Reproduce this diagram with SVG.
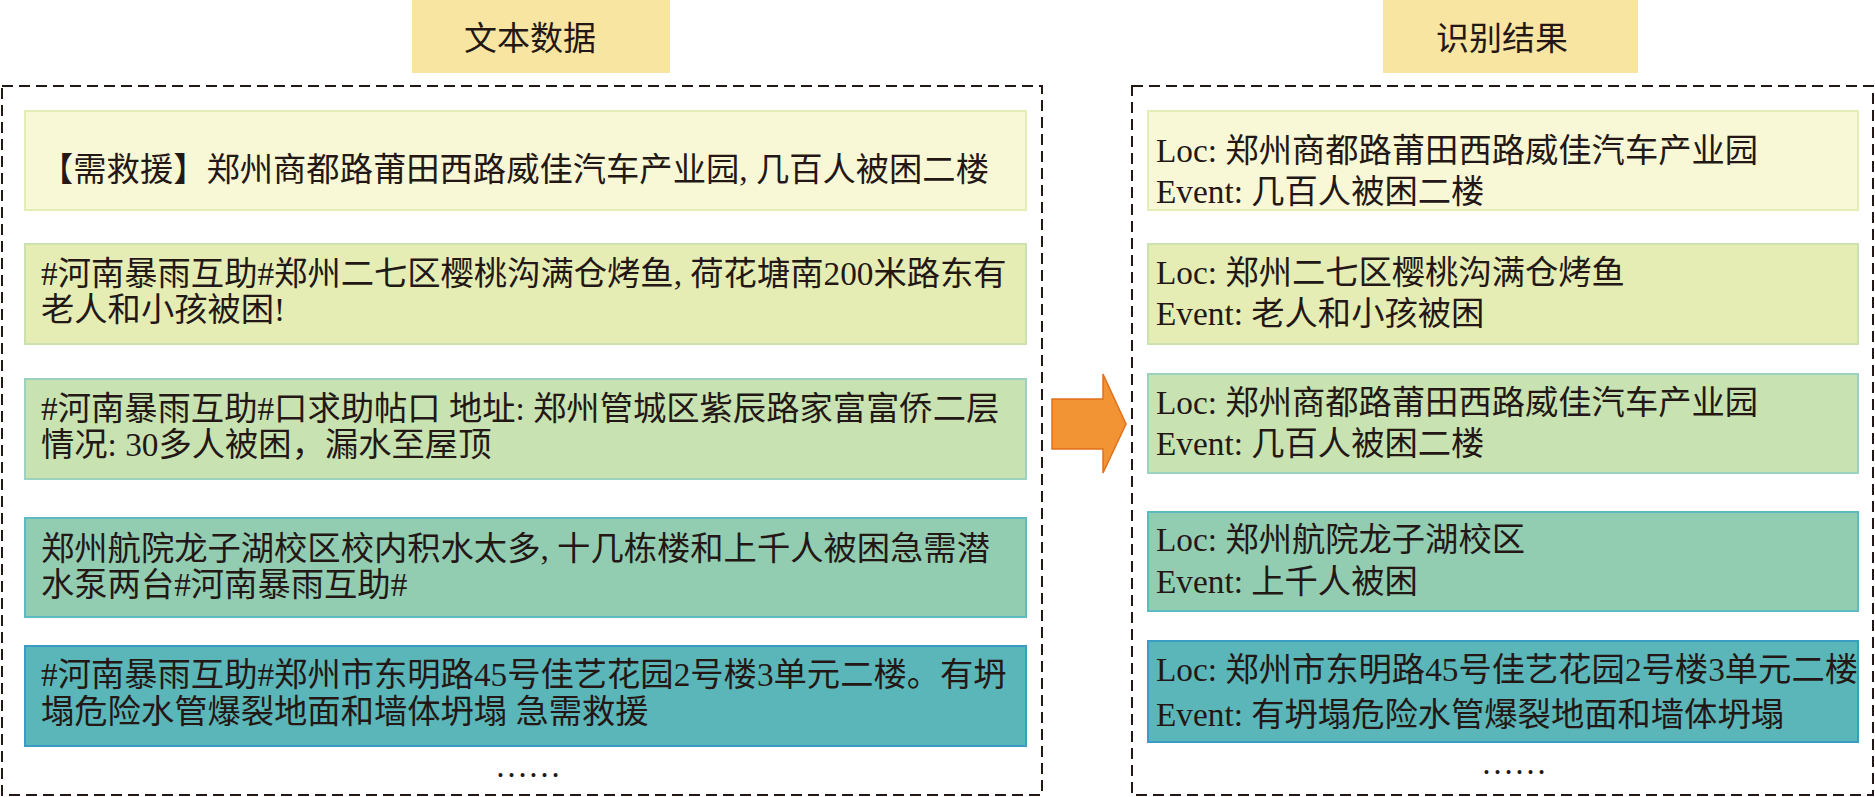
<svg xmlns="http://www.w3.org/2000/svg" width="1875" height="797" viewBox="0 0 1875 797">
<style>
  .t { font-family: "Liberation Serif", "Noto Sans CJK SC", serif; font-size: 33.3px; fill: #231815; }
  .l { font-family: "Liberation Serif", serif; }
  .title { font-family: "Liberation Serif", "Noto Sans CJK SC", serif; font-size: 33px; fill: #231815; text-anchor: middle; }
  .dots { font-family: "Liberation Serif", serif; font-size: 33px; fill: #231815; text-anchor: middle; }
  .tbox { fill: #F8E5A2; stroke: none; }
  .frame { fill: none; stroke: #231815; stroke-width: 2; stroke-dasharray: 11 6; }
  .b1 { fill: #F9F8D6; stroke: #E3EDB6; stroke-width: 2; }
  .b2 { fill: #E5EDB5; stroke: #CCE2AE; stroke-width: 2; }
  .b3 { fill: #C8E2B1; stroke: #9AD2BF; stroke-width: 2; }
  .b4 { fill: #92CDB2; stroke: #5CBAC0; stroke-width: 2; }
  .b5 { fill: #5AB6B8; stroke: #3A9CC2; stroke-width: 2; }
  .arrow { fill: #F29433; stroke: #E0701E; stroke-width: 1.5; stroke-linejoin: miter; }
</style>
<rect width="1875" height="797" fill="#FFFFFF"/>

<g id="title-left">
  <rect class="tbox" x="412" y="0" width="258" height="73"/>
  <text class="title" x="530" y="50">文本数据</text>
</g>
<g id="title-right">
  <rect class="tbox" x="1383" y="0" width="255" height="73"/>
  <text class="title" x="1502" y="50">识别结果</text>
</g>

<g id="container-left">
  <rect class="frame" x="2" y="86" width="1040" height="709"/>
</g>
<g id="container-right">
  <rect class="frame" x="1132" y="86" width="741" height="709"/>
</g>

<g id="src-1">
  <rect class="b1" x="25" y="111" width="1001" height="99"/>
  <text class="t" x="40" y="181">【需救援】郑州商都路莆田西路威佳汽车产业园<tspan class="l">, </tspan>几百人被困二楼</text>
</g>
<g id="src-2">
  <rect class="b2" x="25" y="244" width="1001" height="100"/>
  <text class="t" x="41" y="285"><tspan class="l">#</tspan>河南暴雨互助<tspan class="l">#</tspan>郑州二七区樱桃沟满仓烤鱼<tspan class="l">, </tspan>荷花塘南<tspan class="l">200</tspan>米路东有</text>
  <text class="t" x="41" y="321">老人和小孩被困<tspan class="l">!</tspan></text>
</g>
<g id="src-3">
  <rect class="b3" x="25" y="379" width="1001" height="100"/>
  <text class="t" x="41" y="420"><tspan class="l">#</tspan>河南暴雨互助<tspan class="l">#</tspan>口求助帖口<tspan class="l"> </tspan>地址<tspan class="l">: </tspan>郑州管城区紫辰路家富富侨二层</text>
  <text class="t" x="41" y="456">情况<tspan class="l">: 30</tspan>多人被困，漏水至屋顶</text>
</g>
<g id="src-4">
  <rect class="b4" x="25" y="518" width="1001" height="99"/>
  <text class="t" x="41" y="560">郑州航院龙子湖校区校内积水太多<tspan class="l">, </tspan>十几栋楼和上千人被困急需潜</text>
  <text class="t" x="41" y="596">水泵两台<tspan class="l">#</tspan>河南暴雨互助<tspan class="l">#</tspan></text>
</g>
<g id="src-5">
  <rect class="b5" x="25" y="646" width="1001" height="100"/>
  <text class="t" x="41" y="686"><tspan class="l">#</tspan>河南暴雨互助<tspan class="l">#</tspan>郑州市东明路<tspan class="l">45</tspan>号佳艺花园<tspan class="l">2</tspan>号楼<tspan class="l">3</tspan>单元二楼。有坍</text>
  <text class="t" x="41" y="723">塌危险水管爆裂地面和墙体坍塌<tspan class="l"> </tspan>急需救援</text>
</g>
<g id="src-more">
  <text class="dots" x="528" y="777">……</text>
</g>

<g id="res-1">
  <rect class="b1" x="1148" y="111" width="710" height="99"/>
  <text class="t" x="1156" y="162"><tspan class="l">Loc: </tspan>郑州商都路莆田西路威佳汽车产业园</text>
  <text class="t" x="1156" y="203"><tspan class="l">Event: </tspan>几百人被困二楼</text>
</g>
<g id="res-2">
  <rect class="b2" x="1148" y="244" width="710" height="100"/>
  <text class="t" x="1156" y="284"><tspan class="l">Loc: </tspan>郑州二七区樱桃沟满仓烤鱼</text>
  <text class="t" x="1156" y="325"><tspan class="l">Event: </tspan>老人和小孩被困</text>
</g>
<g id="res-3">
  <rect class="b3" x="1148" y="374" width="710" height="99"/>
  <text class="t" x="1156" y="414"><tspan class="l">Loc: </tspan>郑州商都路莆田西路威佳汽车产业园</text>
  <text class="t" x="1156" y="455"><tspan class="l">Event: </tspan>几百人被困二楼</text>
</g>
<g id="res-4">
  <rect class="b4" x="1148" y="512" width="710" height="99"/>
  <text class="t" x="1156" y="551"><tspan class="l">Loc: </tspan>郑州航院龙子湖校区</text>
  <text class="t" x="1156" y="593"><tspan class="l">Event: </tspan>上千人被困</text>
</g>
<g id="res-5">
  <rect class="b5" x="1148" y="641" width="710" height="101"/>
  <text class="t" x="1156" y="681"><tspan class="l">Loc: </tspan>郑州市东明路<tspan class="l">45</tspan>号佳艺花园<tspan class="l">2</tspan>号楼<tspan class="l">3</tspan>单元二楼</text>
  <text class="t" x="1156" y="726"><tspan class="l">Event: </tspan>有坍塌危险水管爆裂地面和墙体坍塌</text>
</g>
<g id="res-more">
  <text class="dots" x="1514" y="774">……</text>
</g>

<g id="connectors">
  <polygon class="arrow" points="1052,399 1103,399 1103,374 1126,424 1103,473 1103,449 1052,449"/>
</g>
</svg>
